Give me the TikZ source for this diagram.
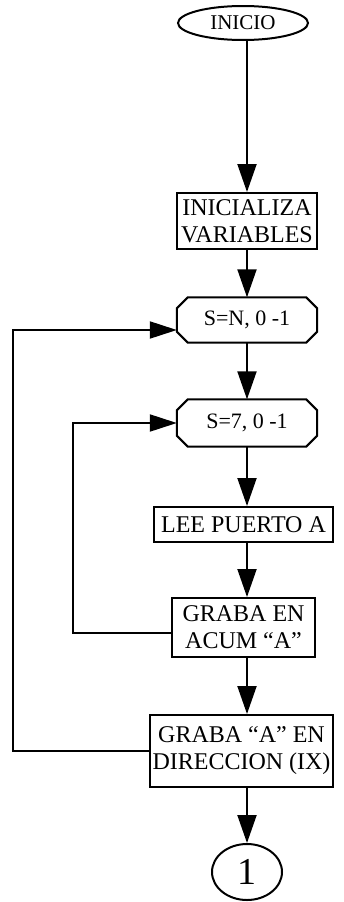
\documentclass[tikz,border=0pt]{standalone}
\usepackage{fontspec}
\setmainfont{Liberation Serif}
\usetikzlibrary{shapes.geometric,arrows.meta,calc}
\begin{document}
\begin{tikzpicture}[x=1pt,y=-1pt,
  every node/.style={font=\fontsize{24}{27}\selectfont, inner sep=0pt, align=center},
  lw/.style={line width=2pt},
  boxn/.style={draw, lw},
  arr/.style={lw, -{Triangle[length=28pt,width=19pt]}},
  larr/.style={lw, -{Triangle[length=27pt,width=17pt]}}]
\useasboundingbox (0,0) rectangle (343,902);
\coordinate (ax) at (247,0);
\coordinate (ox) at (13,0);
\coordinate (ix) at (73,0);
\node[ellipse, draw, lw, minimum width=130pt, minimum height=34pt, font=\fontsize{21}{24}\selectfont] (inicio) at (243,23) {INICIO};
\node[boxn, minimum width=140pt, minimum height=56pt] (init) at (247,221) {INICIALIZA\\VARIABLES};
\node[minimum width=140pt, minimum height=45pt, font=\fontsize{22}{24}\selectfont] (sn) at (247,320) {S=N, 0 -1};
\node[minimum width=140pt, minimum height=47pt, font=\fontsize{22}{24}\selectfont] (ss) at (247,423) {S=7, 0 -1};
\foreach \n in {sn,ss}{
  \draw[lw, line join=miter] ($(\n.north west)+(11,0)$) -- ($(\n.north east)+(-11,0)$)
    -- ($(\n.north east)+(0,11)$) -- ($(\n.south east)+(0,-11)$)
    -- ($(\n.south east)+(-11,0)$) -- ($(\n.south west)+(11,0)$)
    -- ($(\n.south west)+(0,-11)$) -- ($(\n.north west)+(0,11)$) -- cycle;
}
\node[boxn, minimum width=179pt, minimum height=35pt] (lee) at (243.5,524.5) {LEE PUERTO A};
\node[boxn, minimum width=143pt, minimum height=59pt] (ge) at (243.5,627.5) {GRABA EN\\ACUM “A”};
\node[boxn, minimum width=183pt, minimum height=72pt] (ga) at (241.5,751) {GRABA “A” EN\\DIRECCION (IX)};
\node[ellipse, draw, lw, minimum width=70pt, minimum height=56pt, font=\fontsize{38}{40}\selectfont] (uno) at (247,872) {1};
\draw[arr] (inicio.south -| ax) -- (init.north -| ax);
\draw[arr] (init.south -| ax) -- (sn.north -| ax);
\draw[arr] (sn.south -| ax) -- (ss.north -| ax);
\draw[arr] (ss.south -| ax) -- (lee.north -| ax);
\draw[arr] (lee.south -| ax) -- (ge.north -| ax);
\draw[arr] (ge.south -| ax) -- (ga.north -| ax);
\draw[arr] (ga.south -| ax) -- (uno.north -| ax);
\draw[larr] (ga.west) -- (ga.west -| ox) -- ($(sn.west -| ox)+(0,10)$) -- ($(sn.west)+(0,10)$);
\draw[larr] ($(ge.west)+(0,5)$) -- ($(ge.west -| ix)+(0,5)$) -- (ss.west -| ix) -- (ss.west);
\end{tikzpicture}
\end{document}
